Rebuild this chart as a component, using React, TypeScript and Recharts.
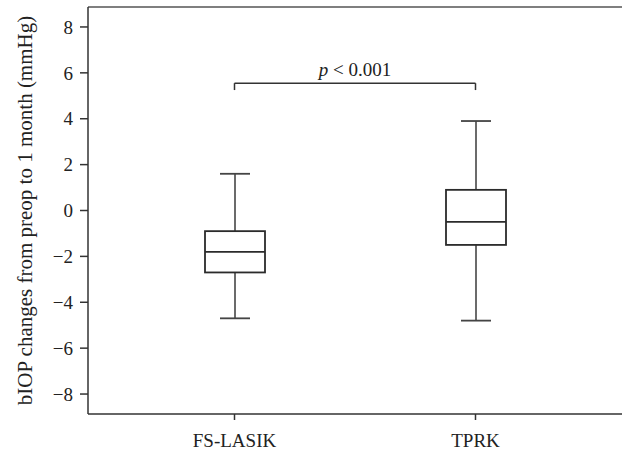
import React from 'react';
import { ComposedChart, Bar, XAxis, YAxis, ReferenceLine, Label } from 'recharts';

const categories = ['FS-LASIK', 'TPRK'];
const whiskerMin = [-4.7, -4.8];
const q1 = [-2.7, -1.5];
const median = [-1.8, -0.5];
const q3 = [-0.9, 0.9];
const whiskerMax = [1.6, 3.9];
const yTicks = [-8, -6, -4, -2, 0, 2, 4, 6, 8];
const bracketY = 5.55;
const bracketEndY = 5.25;
const pLabel = '< 0.001';

const data = categories.map((name, i) => ({
  name,
  min: whiskerMin[i],
  q1: q1[i],
  median: median[i],
  q3: q3[i],
  max: whiskerMax[i],
  range: [whiskerMin[i], whiskerMax[i]],
}));

const FONT = '"Liberation Serif", "DejaVu Serif", serif';
const INK = '#2b2b2b';

const BoxShape = (props: any) => {
  const { x, y, width, height, payload } = props;
  const { min, max } = payload;
  const toPx = (v: number) => y + ((max - v) / (max - min)) * height;
  const cx = x + width / 2;
  const capHalf = 15;
  const yMax = toPx(max);
  const yMin = toPx(min);
  const yQ3 = toPx(payload.q3);
  const yQ1 = toPx(payload.q1);
  const yMed = toPx(payload.median);
  return (
    <g>
      <line x1={cx} x2={cx} y1={yMax} y2={yQ3} stroke="#3a3a3a" strokeWidth={1.5} />
      <line x1={cx} x2={cx} y1={yQ1} y2={yMin} stroke="#3a3a3a" strokeWidth={1.5} />
      <line x1={cx - capHalf} x2={cx + capHalf} y1={yMax} y2={yMax} stroke="#444" strokeWidth={1.8} />
      <line x1={cx - capHalf} x2={cx + capHalf} y1={yMin} y2={yMin} stroke="#444" strokeWidth={1.8} />
      <rect x={x} y={yQ3} width={width} height={yQ1 - yQ3} fill="#fff" stroke={INK} strokeWidth={1.8} />
      <line x1={x} x2={x + width} y1={yMed} y2={yMed} stroke={INK} strokeWidth={1.8} />
    </g>
  );
};

const fmt = (v: number) => (v < 0 ? '\u2212' + Math.abs(v) : String(v));

const PLabel = (props: any) => {
  const { viewBox } = props;
  const cx = viewBox.x + viewBox.width / 2;
  return (
    <text x={cx} y={viewBox.y - 7} textAnchor="middle" fontFamily={FONT} fontSize={19} fill="#222">
      <tspan fontStyle="italic">p</tspan>
      <tspan> {pLabel}</tspan>
    </text>
  );
};

export default function App() {
  return (
    <div style={{ position: 'absolute', left: 0, top: 0, width: 622, height: 451, overflow: 'hidden', background: '#fff' }}>
      <ComposedChart
        width={622}
        height={451}
        data={data}
        margin={{ top: 7, right: 0, bottom: 0, left: 0 }}
      >
        <XAxis
          dataKey="name"
          padding={{ left: 26, right: 26 }}
          height={37}
          tickSize={6}
          tickMargin={14}
          stroke="#333"
          strokeWidth={1.5}
          tick={{ fill: '#222', fontFamily: FONT, fontSize: 19 }}
          tickLine={{ stroke: '#333', strokeWidth: 1.5 }}
        />
        <YAxis
          type="number"
          domain={[-8.87, 8.87]}
          ticks={yTicks}
          allowDataOverflow
          width={88}
          tickSize={8}
          tickMargin={7}
          tickFormatter={fmt}
          stroke="#333"
          strokeWidth={1.5}
          tick={{ fill: '#222', fontFamily: FONT, fontSize: 19 }}
          tickLine={{ stroke: '#333', strokeWidth: 1.5 }}
        >
          <Label
            value="bIOP changes from preop to 1 month (mmHg)"
            angle={-90}
            position="insideLeft"
            offset={24.5}
            style={{ textAnchor: 'middle', fontFamily: FONT, fontSize: 21, fill: '#222' }}
          />
        </YAxis>
        <ReferenceLine y={8.87} stroke="#555" strokeWidth={1.5} ifOverflow="extendDomain" />
        <Bar dataKey="range" barSize={60} shape={BoxShape} isAnimationActive={false} />
        <ReferenceLine
          segment={[{ x: 'FS-LASIK', y: bracketY }, { x: 'TPRK', y: bracketY }]}
          stroke="#333"
          strokeWidth={1.5}
          label={<PLabel />}
        />
        <ReferenceLine
          segment={[{ x: 'FS-LASIK', y: bracketY }, { x: 'FS-LASIK', y: bracketEndY }]}
          stroke="#333"
          strokeWidth={1.5}
        />
        <ReferenceLine
          segment={[{ x: 'TPRK', y: bracketY }, { x: 'TPRK', y: bracketEndY }]}
          stroke="#333"
          strokeWidth={1.5}
        />
      </ComposedChart>
    </div>
  );
}
